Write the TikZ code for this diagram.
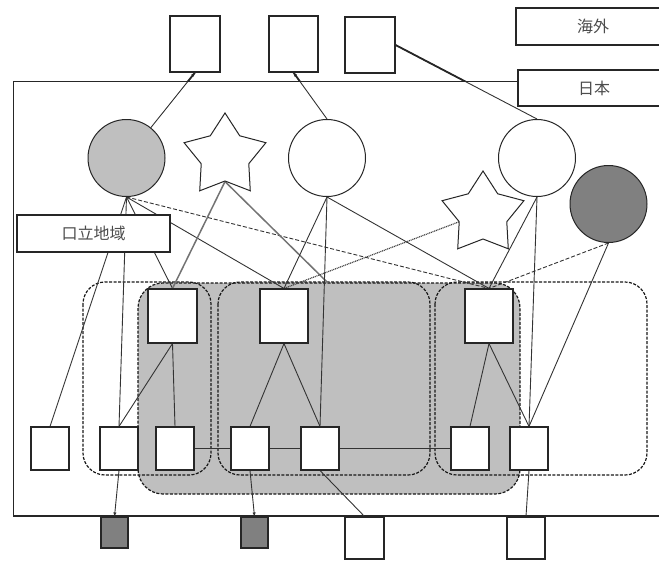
\documentclass[tikz,border=0pt]{standalone}
\usepackage{fontspec}
\newfontfamily\cjk{Noto Sans CJK JP}
\usetikzlibrary{shapes.geometric,arrows.meta}
\pgfdeclarelayer{bg}
\pgfsetlayers{bg,main}
\begin{document}
\begin{tikzpicture}[x=1pt,y=-1pt,
  conn/.style={draw=black!80, line width=0.9pt},
  boxnode/.style={draw=black!85, fill=white, line width=1.1pt, inner sep=0pt,
    path picture={\draw[black!85,line width=3pt] (path picture bounding box.south west) -- (path picture bounding box.south east);}},
  lbl/.style={boxnode, font=\cjk\fontsize{16}{18}\selectfont, text=black!70},
  circ/.style={circle, draw=black!85, line width=1pt, minimum size=77pt, inner sep=0pt},
  starnode/.style={star, star points=5, star point ratio=1.72, minimum size=86pt, inner sep=0pt, draw=black!85, fill=white, line width=1pt},
  grp/.style={draw=black!90, line width=1.2pt, dash pattern=on 3pt off 1.5pt, rounded corners=22pt},
  dsh/.style={conn, dash pattern=on 4pt off 2pt},
  dots/.style={draw=black!75, line width=1.2pt, dash pattern=on 1pt off 0.8pt},
  sline/.style={draw=black!55, line width=1.5pt},
  tip/.style={-{Latex[length=4pt,width=3.5pt]}},
  thickpart/.style={draw=black!85, line width=1.8pt}
]
\useasboundingbox (0,0) rectangle (659,560);
\clip (0,0) rectangle (659,560);

% top boxes (outside)
\node[boxnode, minimum width=50pt, minimum height=56pt] (t1) at (195,44) {};
\node[boxnode, minimum width=49pt, minimum height=56pt] (t2) at (293.5,44) {};
\node[boxnode, minimum width=50pt, minimum height=56pt] (t3) at (370,45) {};

% labels
\node[lbl, minimum width=154pt, minimum height=37pt] (kaigai) at (593,26.5) {海外};
\node[lbl, minimum width=152pt, minimum height=36pt] (nihon) at (594,88) {日本};
\node[lbl, minimum width=153pt, minimum height=37pt] (area) at (93.5,233.5) {口立地域};

% circles and stars
\node[circ, fill=black!25] (c1) at (126.5,158) {};
\node[circ, fill=white] (c2) at (327,158) {};
\node[circ, fill=white] (c3) at (537,158) {};
\node[circ, fill=black!50] (c4) at (608.5,204) {};
\node[starnode] (s1) at (225,156) {};
\node[starnode] (s2) at (483,214) {};

% upper row
\node[boxnode, minimum width=49pt, minimum height=54pt] (u1) at (172.5,316) {};
\node[boxnode, minimum width=48pt, minimum height=54pt] (u2) at (284,316) {};
\node[boxnode, minimum width=48pt, minimum height=54pt] (u3) at (489,316) {};

% lower row
\node[boxnode, minimum width=38pt, minimum height=43pt] (l1) at (50,448.5) {};
\node[boxnode, minimum width=38pt, minimum height=43pt] (l2) at (119,448.5) {};
\node[boxnode, minimum width=38pt, minimum height=43pt] (l3) at (175,448.5) {};
\node[boxnode, minimum width=38pt, minimum height=43pt] (l4) at (250,448.5) {};
\node[boxnode, minimum width=38pt, minimum height=43pt] (l5) at (320,448.5) {};
\node[boxnode, minimum width=38pt, minimum height=43pt] (l6) at (470,448.5) {};
\node[boxnode, minimum width=38pt, minimum height=43pt] (l7) at (529,448.5) {};

% bottom boxes (outside)
\node[boxnode, fill=black!50, minimum width=27pt, minimum height=31pt] (b1) at (114.5,532.5) {};
\node[boxnode, fill=black!50, minimum width=27pt, minimum height=31pt] (b2) at (254.5,532.5) {};
\node[boxnode, minimum width=39pt, minimum height=42pt] (b3) at (364.5,538) {};
\node[boxnode, minimum width=38pt, minimum height=42pt] (b4) at (526,538) {};

\coordinate (e1) at (328,283);

\begin{pgfonlayer}{bg}
  % frame of Japan
  \draw[draw=black!85, line width=1pt] (670,81) -- (13,81) -- (13,516);
  \draw[draw=black!85, line width=2pt] (13,516) -- (670,516);
  % groups
  \draw[grp, fill=black!25, rounded corners=25pt] (138,283) rectangle (520,494);
  \draw[grp] (83,282) rectangle (211,475);
  \draw[grp] (218,282) rectangle (430,475);
  \draw[grp] (435,282) rectangle (647,475);
  % links to outside
  \draw[conn, tip] (c1) -- (t1.south);
  \draw[conn, tip] (c2.north) -- (t2.south);
  \draw[conn] (c3.north) -- (t3.east);
  \begin{scope}
    \clip (0,0) rectangle (659,81);
    \draw[thickpart] (c1) -- (t1.south);
    \draw[thickpart] (c2.north) -- (t2.south);
    \draw[thickpart] (c3.north) -- (t3.east);
  \end{scope}
  % from c1
  \draw[conn] (c1.south) -- (l1.north);
  \draw[conn] (c1.south) -- (l2.north);
  \draw[conn] (c1.south) -- (u1.north);
  \draw[conn] (c1.south) -- (u2.north);
  \draw[dsh] (c1.south) -- (u3.north);
  % from star 1
  \draw[sline] (s1.inner point 3) -- (u1.north);
  \draw[sline] (s1.inner point 3) -- (e1);
  % from c2
  \draw[conn] (c2.south) -- (u2.north);
  \draw[conn] (c2.south) -- (l5.north);
  \draw[conn] (c2.south) -- (u3.north);
  % from star 2
  \draw[dots] (s2.inner point 2) -- (u2.north);
  % from c3, c4
  \draw[conn] (c3.south) -- (u3.north);
  \draw[conn] (c3.south) -- (l7.north);
  \draw[dsh] (c4.south) -- (u3.north);
  \draw[conn] (c4.south) -- (l7.north);
  % tree links
  \draw[conn] (u1.south) -- (l2.north);
  \draw[conn] (u1.south) -- (l3.north);
  \draw[conn] (u2.south) -- (l4.north);
  \draw[conn] (u2.south) -- (l5.north);
  \draw[conn] (u3.south) -- (l6.north);
  \draw[conn] (u3.south) -- (l7.north);
  % horizontal links
  \draw[conn] (l3.east) -- (l4.west);
  \draw[conn] (l4.east) -- (l5.west);
  \draw[conn] (l5.east) -- (l6.west);
  % links down
  \draw[conn, tip] (l2.south) -- (b1.north);
  \draw[conn, tip] (l4.south) -- (b2.north);
  \draw[conn] (l5.south) -- (b3.north);
  \draw[conn] (l7.south) -- (b4.north);
\end{pgfonlayer}
\end{tikzpicture}
\end{document}
